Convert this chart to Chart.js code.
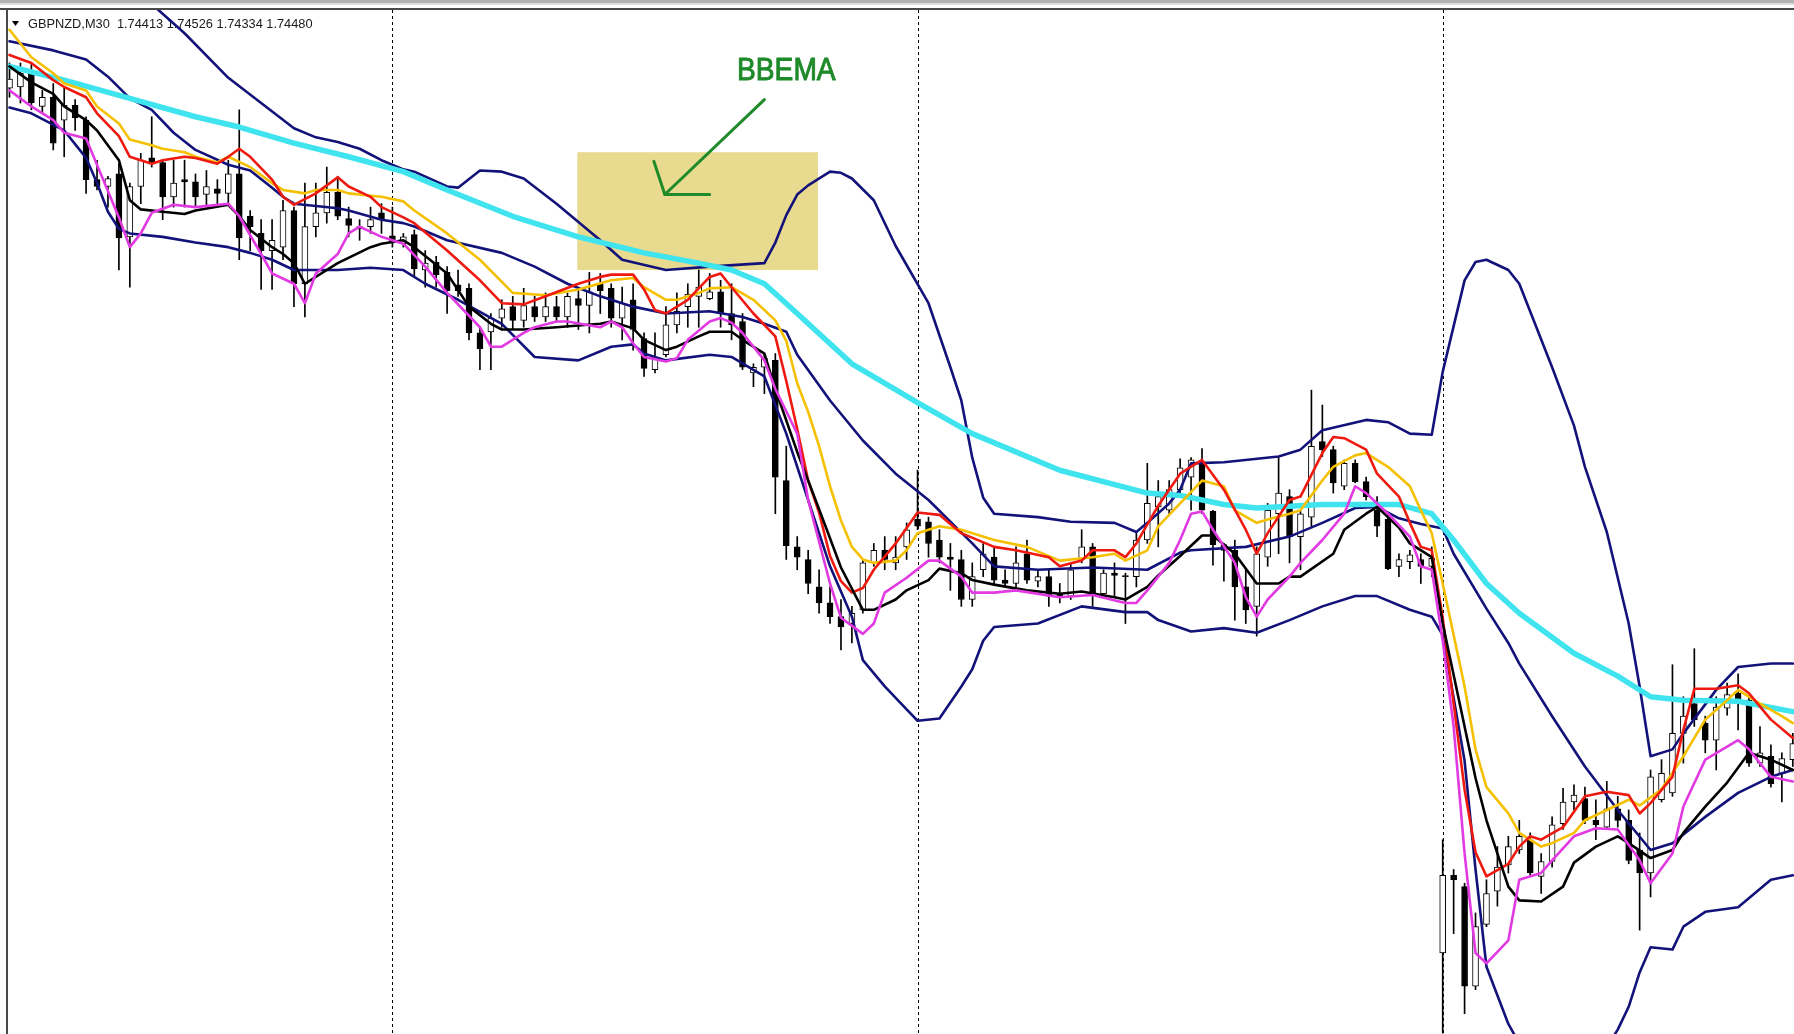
<!DOCTYPE html>
<html>
<head>
<meta charset="utf-8">
<script src="https://cdn.jsdelivr.net/npm/chart.js@4.4.1/dist/chart.umd.min.js"></script>
<style>
html, body { margin: 0; padding: 0; background: #fff; overflow: hidden; }
#wrap { width: 1794px; height: 1034px; }
</style>
</head>
<body>
<div id="wrap"><canvas id="chart" width="1794" height="1034"></canvas></div>
<script>
const opens = [823,824,837,807,815,795,808,795,743,737, 748,693,737,762,758,728,743,741,730,735,
  731,748,711,696,681,684,716,652,702,714, 732,709,702,702,714,694,687,695,664,671,
  662,651,648,609,610,622,632,620,632,623, 632,623,639,633,652,648,622,638,604,577,
  590,616,632,641,639,645,626,619,574,579, 585,480,422,411,387,373,361,355,367,408,
  419,408,422,446,444,428,413,411,376,402, 413,393,390,416,392,396,381,379,411,422,
  381,399,397,396,428,457,454,472,483,495, 453,424,419,387,370,413,451,466,431,448,
  514,507,475,495,479,454,446,405,409,411, 405,67,135,125,38,92,121,144,157,166,
  134,147,180,199,202,183,177,193,183,157, 137,201,207,259,285,268,253,281,294,288,
  233,239,224,236];
const highs = [845,845,845,821,827,824,813,798,760,746, 757,740,766,798,760,760,760,748,751,743,
  760,804,716,708,708,725,719,740,740,754, 746,719,708,719,722,719,696,699,681,676,
  667,664,652,614,626,638,641,648,641,644, 641,644,649,662,661,652,649,652,609,609,
  632,644,652,664,661,655,652,626,582,591, 591,510,431,419,402,387,376,370,411,425,
  431,431,443,489,448,437,425,419,408,425, 422,402,422,428,402,402,390,408,437,425,
  402,408,399,434,495,480,480,499,500,508, 454,425,428,402,422,460,501,472,454,559,
  546,510,498,498,483,466,450,416,419,416, 422,166,140,128,102,131,160,169,183,172,
  154,186,211,214,212,201,217,204,192,172, 227,236,319,291,333,274,291,303,311,291,
  265,249,242,259];
const lows = [815,810,804,801,769,763,786,731,734,719, 664,649,722,754,708,719,719,719,719,722,
  722,673,681,647,647,673,632,623,693,705, 708,693,690,696,696,684,684,658,649,649,
  626,641,603,577,577,614,612,614,619,619, 619,614,612,609,626,614,603,594,571,574,
  588,609,614,614,638,614,603,577,562,556, 451,411,402,381,364,355,332,338,364,405,
  402,402,411,437,413,408,384,370,370,396, 390,387,387,390,387,370,373,376,408,370,
  379,379,355,387,425,422,451,469,454,451, 406,392,358,355,344,405,416,408,402,440,
  501,469,472,478,463,431,402,396,403,390, 396,-3,84,14,35,90,108,137,154,134,
  119,142,175,192,180,166,175,177,145,87, 116,199,204,233,265,242,227,275,262,230,
  230,212,199,230];
const closes = [831,836,810,815,775,808,797,743,737,744, 692,737,760,757,728,740,741,728,737,731,
  748,692,702,681,690,716,652,702,714,732, 711,703,700,708,708,689,693,665,670,660,
  646,646,609,595,622,630,620,633,623,632, 623,641,633,645,646,622,635,612,578,588,
  616,628,643,649,645,626,616,579,579,587, 483,423,413,390,373,361,352,364,408,419,
  411,413,437,440,425,413,411,376,396,416, 393,390,408,393,396,379,379,402,422,381,
  399,397,396,428,460,466,472,491,498,454, 424,419,387,367,416,454,469,431,451,510,
  507,478,495,479,466,440,403,411,415,405, 412,135,131,38,90,119,142,160,169,137,
  147,179,199,205,183,179,193,183,148,137, 221,224,259,274,271,253,282,293,288,233,
  242,215,237,250];

// indicator lines as [bar, level]
const emaCyan = [[0,842],[5,830],[11,814],[17,798],[21,789],[26,775],[31,763],[36,750],[40,734],[46,711],[52,693],[58,679],[63,670],[66,664],[69,652],[72,626],[77,582],[83,548],[88,521],[96,489],[104,469],[107,467],[111,459],[114,456],[120,459],[127,459],[130,451],[132,428],[135,390],[138,364],[143,329],[147,309],[150,291],[153,288],[158,287],[163,278]];
const bbUpper = [[12,905],[16,871],[20,832],[23,810],[26,788],[28,780],[30,776],[32,770],[34,760],[36,752],[37,750],[40,737],[41,736],[43,751],[45,750],[47,744],[50,722],[54,690],[56,673],[60,664],[64,667],[69,670],[70,688],[71,712],[72,730],[73,738],[75,750],[76,749],[77,744],[79,725],[81,685],[84,635],[86,579],[87,550],[88,500],[89,465],[90,451],[94,448],[97,444],[101,443],[103,435],[104,443],[106,460],[107,472],[108,495],[111,496],[116,501],[118,507],[120,524],[124,533],[126,531],[128,521],[130,520],[131,575],[133,655],[134,671],[135,673],[137,664],[138,652],[141,579],[143,528],[144,492],[146,435],[147,395],[148,355],[149,300],[150,239],[152,245],[153,259],[156,297],[158,317],[161,320],[163,320]];
const bbMiddle = [[0,864],[4,856],[7,848],[9,833],[11,814],[13,804],[15,784],[17,769],[20,756],[22,751],[24,736],[25,728],[26,722],[30,718],[31,716],[34,708],[36,705],[37,702],[40,690],[45,679],[48,667],[51,652],[54,641],[57,632],[60,626],[64,628],[67,623],[69,617],[71,610],[72,590],[75,550],[78,515],[81,486],[84,463],[88,425],[90,405],[94,402],[99,404],[104,402],[107,417],[108,419],[113,422],[117,431],[120,443],[123,456],[125,457],[127,447],[129,442],[131,438],[132,416],[135,368],[137,338],[138,320],[141,274],[144,230],[147,192],[150,157],[152,163],[155,186],[158,207],[161,221],[163,227]];
const bbLower = [[0,806],[2,801],[5,786],[7,762],[8,740],[9,715],[10,700],[11,696],[14,693],[17,688],[20,684],[22,679],[24,673],[26,664],[30,664],[33,666],[36,664],[38,652],[41,638],[45,617],[48,588],[52,585],[55,597],[57,599],[58,591],[60,585],[64,590],[66,588],[69,571],[71,521],[73,463],[75,405],[77,361],[78,323],[80,300],[82,280],[83,270],[85,272],[87,300],[88,315],[89,340],[90,352],[94,355],[98,370],[102,365],[104,365],[105,358],[108,348],[111,351],[114,347],[117,358],[120,370],[123,379],[125,379],[128,367],[130,361],[131,345],[132,290],[133,235],[134,140],[135,55],[137,5],[138,-12],[141,-32],[144,-32],[146,-15],[147,0],[148,20],[149,50],[150,72],[152,70],[153,90],[155,103],[158,107],[161,131],[163,135]];
const maRed = [[0,852],[2,845],[4,830],[5,824],[7,815],[8,801],[10,781],[11,763],[13,757],[14,760],[16,763],[17,762],[19,757],[20,763],[21,770],[22,763],[24,743],[25,728],[26,721],[28,731],[30,745],[31,737],[33,728],[34,719],[36,710],[37,705],[40,681],[43,655],[45,635],[47,634],[49,641],[52,652],[54,658],[55,660],[57,660],[58,647],[59,629],[60,626],[62,638],[64,658],[65,661],[66,649],[68,626],[70,606],[71,567],[72,525],[73,480],[74,452],[75,414],[76,392],[77,382],[78,386],[79,402],[81,425],[83,452],[85,450],[87,434],[90,422],[92,419],[95,413],[96,405],[98,410],[99,419],[101,419],[102,413],[103,425],[105,458],[107,486],[109,498],[111,472],[113,437],[114,416],[115,434],[117,463],[118,466],[120,504],[121,518],[122,517],[124,507],[125,486],[127,466],[128,443],[129,422],[130,419],[131,360],[132,285],[133,210],[134,155],[135,134],[137,145],[138,160],[139,169],[140,166],[142,177],[144,204],[146,208],[148,205],[149,189],[150,198],[152,221],[153,262],[154,298],[156,298],[158,301],[159,294],[161,271],[163,255]];
const maGold = [[0,874],[2,850],[4,836],[5,827],[7,821],[8,807],[10,792],[11,778],[13,773],[14,770],[16,767],[17,763],[19,758],[20,763],[22,754],[24,740],[25,734],[27,731],[28,734],[30,734],[31,731],[33,729],[34,728],[36,724],[37,716],[40,696],[43,673],[46,644],[49,642],[52,647],[55,655],[57,657],[58,649],[60,638],[61,638],[63,644],[64,648],[66,649],[68,638],[70,620],[71,602],[72,565],[73,540],[74,510],[75,475],[76,445],[77,422],[78,411],[79,408],[81,410],[82,419],[83,434],[85,440],[87,437],[90,428],[93,422],[96,410],[99,413],[101,416],[102,410],[104,419],[105,440],[107,460],[109,480],[111,475],[112,454],[114,443],[115,446],[117,451],[118,454],[120,480],[121,492],[123,502],[124,504],[126,492],[128,475],[129,454],[130,434],[131,390],[132,345],[133,300],[134,245],[135,212],[137,189],[138,172],[140,160],[141,163],[143,172],[144,183],[146,192],[148,201],[149,196],[151,210],[153,239],[155,271],[157,288],[158,297],[160,285],[162,274],[163,268]];
const maBlack = [[0,842],[2,828],[4,818],[5,807],[7,795],[8,786],[10,760],[11,725],[12,717],[14,715],[16,713],[17,716],[20,721],[21,711],[22,699],[24,684],[25,678],[26,670],[27,652],[30,670],[33,684],[34,687],[36,690],[37,684],[40,661],[42,632],[44,617],[45,612],[47,612],[50,614],[54,617],[55,619],[57,613],[58,603],[60,594],[61,597],[63,606],[64,610],[66,610],[67,603],[69,591],[70,560],[72,505],[74,455],[76,404],[78,367],[79,367],[81,376],[82,384],[84,393],[85,403],[87,399],[88,393],[90,389],[93,384],[96,381],[98,383],[101,378],[102,376],[104,387],[105,397],[107,414],[109,432],[110,432],[112,416],[114,390],[116,390],[117,396],[118,396],[121,416],[122,437],[124,451],[125,457],[127,439],[128,425],[130,413],[131,355],[132,310],[133,265],[134,220],[135,183],[137,125],[138,113],[140,112],[142,125],[143,146],[145,160],[147,169],[148,163],[150,150],[152,157],[153,172],[155,195],[157,216],[159,242],[161,236],[163,227]];
const maMagenta = [[0,821],[2,807],[4,795],[5,784],[7,779],[10,710],[11,684],[12,696],[13,714],[15,721],[17,719],[20,722],[21,711],[23,678],[24,661],[26,652],[27,635],[28,661],[30,678],[31,696],[32,702],[34,693],[36,687],[38,667],[40,644],[43,614],[44,597],[45,597],[47,609],[48,614],[50,619],[51,619],[54,614],[55,619],[56,614],[57,600],[58,588],[60,584],[61,587],[62,603],[64,619],[65,622],[66,618],[67,609],[69,585],[70,560],[72,521],[73,463],[75,390],[76,360],[78,346],[79,355],[80,382],[82,395],[84,410],[85,410],[87,396],[88,382],[90,382],[92,384],[96,378],[99,380],[102,373],[103,373],[104,384],[106,408],[107,428],[108,451],[109,453],[110,437],[112,408],[113,378],[114,361],[115,376],[117,396],[118,408],[120,428],[122,451],[123,475],[124,469],[126,451],[128,431],[129,405],[130,402],[131,340],[132,265],[133,154],[134,67],[135,58],[137,78],[138,131],[140,137],[141,148],[143,169],[145,176],[147,175],[149,148],[150,128],[152,154],[153,195],[155,236],[158,253],[159,245],[161,221],[163,217]];

const daySeparators = [35, 83, 131];
const symbolInfo = 'GBPNZD,M30  1.74413 1.74526 1.74334 1.74480';
const noteText = 'BBEMA';

// hand-drawn note, placed in chart units
const noteBox = { x0: 51.9, x1: 73.9, y0: 664, y1: 767 };
const noteShaft = [[69.0, 813], [59.9, 730]];
const noteHead = [[58.9, 759], [59.9, 730], [64.0, 730]];
const noteLabel = { x: 66.5, y: 830 };

const GREEN = '#1f8a2a';

const chrome = {
  id: 'chrome',
  beforeDraw(chart) {
    const c = chart.ctx;
    c.save();
    c.fillStyle = '#fff';
    c.fillRect(0, 0, chart.width, chart.height);
    c.fillStyle = '#b2b2b2';
    c.fillRect(0, 0, chart.width, 3);
    c.fillStyle = '#dcdcdc';
    c.fillRect(0, 3, chart.width, 2);
    c.fillStyle = '#4a4a4a';
    c.fillRect(0, 8, chart.width, 2);
    c.fillRect(6, 8, 2, chart.height - 8);
    c.restore();
  },
  beforeDatasetsDraw(chart) {
    const c = chart.ctx, a = chart.chartArea, x = chart.scales.x, y = chart.scales.y;
    c.save();
    c.beginPath();
    c.rect(a.left, a.top, a.right - a.left, a.bottom - a.top);
    c.clip();

    const bx0 = x.getPixelForValue(noteBox.x0), bx1 = x.getPixelForValue(noteBox.x1);
    const by0 = y.getPixelForValue(noteBox.y1), by1 = y.getPixelForValue(noteBox.y0);
    c.fillStyle = '#e8da8e';
    c.fillRect(bx0, by0, bx1 - bx0, by1 - by0);

    c.strokeStyle = '#000';
    c.lineWidth = 1;
    c.setLineDash([3, 3]);
    daySeparators.forEach(d => {
      const px = Math.round(x.getPixelForValue(d)) + 0.5;
      c.beginPath();
      c.moveTo(px, a.top);
      c.lineTo(px, a.bottom);
      c.stroke();
    });
    c.setLineDash([]);

    c.fillStyle = '#000';
    c.beginPath();
    c.moveTo(12, 21); c.lineTo(19, 21); c.lineTo(15.5, 26);
    c.closePath();
    c.fill();
    c.fillStyle = '#1a1a1a';
    c.font = '12.8px "Liberation Sans", Arial, sans-serif';
    c.textBaseline = 'alphabetic';
    c.fillText(symbolInfo, 28, 28);
    c.restore();
  },
  afterDatasetsDraw(chart) {
    const c = chart.ctx, x = chart.scales.x, y = chart.scales.y;
    const px = p => [x.getPixelForValue(p[0]), y.getPixelForValue(p[1])];
    c.save();
    c.strokeStyle = GREEN;
    c.lineWidth = 3;
    c.lineCap = 'round';
    c.lineJoin = 'round';
    c.beginPath();
    c.moveTo(...px(noteShaft[0]));
    c.lineTo(...px(noteShaft[1]));
    c.stroke();
    c.beginPath();
    c.moveTo(...px(noteHead[0]));
    c.lineTo(...px(noteHead[1]));
    c.lineTo(...px(noteHead[2]));
    c.stroke();

    const [tx, ty] = px([noteLabel.x, noteLabel.y]);
    c.translate(tx, ty);
    c.scale(0.88, 1);
    c.fillStyle = GREEN;
    c.strokeStyle = GREEN;
    c.lineWidth = 1;
    c.font = '32px "Liberation Sans", Arial, sans-serif';
    c.textBaseline = 'alphabetic';
    c.fillText(noteText, 0, 0);
    c.strokeText(noteText, 0, 0);
    c.restore();
  }
};

function line(label, pts, color, width, order) {
  return {
    type: 'line', label, data: pts, order,
    borderColor: color, borderWidth: width,
    pointRadius: 0, tension: 0, fill: false,
    borderJoinStyle: 'round', borderCapStyle: 'round'
  };
}

const bars = opens.map((_, i) => i);
const bodyData = bars.map(i => ({ x: i, y: [opens[i], closes[i]] }));
const wickData = bars.map(i => ({ x: i, y: [lows[i], highs[i]] }));

new Chart(document.getElementById('chart'), {
  type: 'bar',
  data: {
    datasets: [
      line('MA fast', maMagenta, '#e23ae2', 2.6, 1),
      line('MA mid', maBlack, '#000000', 2.6, 2),
      line('MA red', maRed, '#ee1a10', 2.6, 3),
      line('MA gold', maGold, '#f5c000', 2.6, 4),
      line('EMA', emaCyan, '#40e4ef', 5.5, 5),
      line('BB upper', bbUpper, '#12127a', 2.6, 6),
      line('BB middle', bbMiddle, '#12127a', 2.6, 7),
      line('BB lower', bbLower, '#12127a', 2.6, 8),
      {
        type: 'bar', label: 'body', data: bodyData, order: 9,
        grouped: false, barThickness: 6, minBarLength: 1,
        borderSkipped: false, borderWidth: 1, borderColor: '#000',
        backgroundColor: c => closes[c.dataIndex] >= opens[c.dataIndex] ? '#fff' : '#000'
      },
      {
        type: 'bar', label: 'wick', data: wickData, order: 10,
        grouped: false, barThickness: 1, backgroundColor: '#000'
      }
    ]
  },
  options: {
    responsive: false,
    animation: false,
    events: [],
    layout: { padding: { left: 8, top: 10, right: 0, bottom: 0 } },
    plugins: { legend: { display: false }, tooltip: { enabled: false } },
    scales: {
      x: { type: 'linear', min: -0.137, max: 163.11, offset: false, display: false },
      y: { min: -3.8, max: 891.3, display: false }
    }
  },
  plugins: [chrome]
});
</script>
</body>
</html>
